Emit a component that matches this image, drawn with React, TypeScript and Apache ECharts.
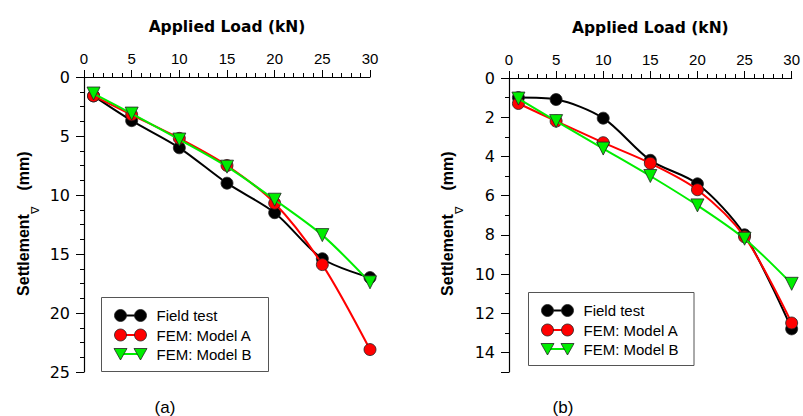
import React, { useEffect, useRef } from "react";
import * as echarts from "echarts";

// Applied load (kN)
const loads = [1, 5, 10, 15, 20, 25, 30];

// (a) settlement (mm)
const aField = [1.6, 3.7, 6.0, 9.0, 11.5, 15.4, 17.0];
const aModelA = [1.6, 3.2, 5.2, 7.5, 10.7, 15.9, 23.1];
const aModelB = [1.4, 3.1, 5.3, 7.6, 10.4, 13.4, 17.4];

// (b) settlement (mm)
const bField = [1.0, 1.1, 2.05, 4.2, 5.4, 8.0, 12.8];
const bModelA = [1.3, 2.2, 3.3, 4.35, 5.7, 8.1, 12.5];
const bModelB = [1.05, 2.2, 3.6, 5.0, 6.5, 8.2, 10.5];

const seriesNames = ["Field test", "FEM: Model A", "FEM: Model B"];
const seriesColors = ["#000000", "#ff0000", "#00ee00"];
const panelLabels = ["(a)", "(b)"];
const xTitle = "Applied Load (kN)";

const FONT = "'Liberation Sans', Arial, sans-serif";

function pairs(ys: number[]) {
  return loads.map((x, i) => [x, ys[i]]);
}

function makeSeries(ys: number[], idx: number, grid: number) {
  const isTri = idx === 2;
  return {
    type: "line",
    name: seriesNames[idx],
    xAxisIndex: grid,
    yAxisIndex: grid,
    data: pairs(ys),
    smooth: 0.3,
    symbol: isTri ? "triangle" : "circle",
    symbolRotate: isTri ? 180 : 0,
    symbolSize: isTri ? 13 : 12,
    lineStyle: { color: seriesColors[idx], width: 2 },
    itemStyle: { color: seriesColors[idx], borderColor: "#222", borderWidth: 0.8 },
    z: 2 + idx,
  };
}

function legendGraphics(bx: number, by: number, bw: number, bh: number) {
  const els: any[] = [
    {
      type: "rect",
      shape: { x: bx, y: by, width: bw, height: bh },
      style: { fill: "#fff", stroke: "#555", lineWidth: 1 },
      z: 10,
    },
  ];
  const rows = [18, 37.5, 56.5];
  rows.forEach((dy, i) => {
    const cy = by + dy;
    const x1 = bx + 19;
    const x2 = bx + 39;
    els.push({
      type: "line",
      shape: { x1, y1: cy, x2, y2: cy },
      style: { stroke: seriesColors[i], lineWidth: 2 },
      z: 11,
    });
    [x1, x2].forEach((cx) => {
      if (i === 2) {
        els.push({
          type: "polygon",
          shape: { points: [[cx - 6.5, cy - 5.5], [cx + 6.5, cy - 5.5], [cx, cy + 6]] },
          style: { fill: seriesColors[i], stroke: "#222", lineWidth: 0.8 },
          z: 12,
        });
      } else {
        els.push({
          type: "circle",
          shape: { cx, cy, r: 6 },
          style: { fill: seriesColors[i], stroke: "#222", lineWidth: 0.8 },
          z: 12,
        });
      }
    });
    els.push({
      type: "text",
      x: bx + 55,
      y: cy,
      style: {
        text: seriesNames[i],
        font: `15px ${FONT}`,
        fill: "#000",
        verticalAlign: "middle",
      },
      z: 12,
    });
  });
  return els;
}

function yTitle(cx: number, triX: number) {
  const bold = `bold 16px ${FONT}`;
  return [
    {
      type: "text",
      x: cx,
      y: 255,
      rotation: Math.PI / 2,
      style: { text: "Settlement", font: bold, fill: "#000", align: "center", verticalAlign: "middle" },
    },
    {
      type: "text",
      x: triX,
      y: 210,
      rotation: Math.PI / 2,
      style: { text: "∇", font: `11px ${FONT}`, fill: "#000", align: "center", verticalAlign: "middle" },
    },
    {
      type: "text",
      x: cx,
      y: 171,
      rotation: Math.PI / 2,
      style: { text: "(mm)", font: bold, fill: "#000", align: "center", verticalAlign: "middle" },
    },
  ];
}

function xAxisCfg(grid: number) {
  return {
    type: "value",
    gridIndex: grid,
    position: "top",
    min: 0,
    max: 30,
    interval: 5,
    name: xTitle,
    nameLocation: "middle",
    nameGap: 42,
    nameTextStyle: { fontFamily: "'DejaVu Sans', sans-serif", fontWeight: "bold", fontSize: 15.5, color: "#000" },
    axisLine: { show: true, lineStyle: { color: "#000", width: 1.2 } },
    axisTick: { show: true, length: 7, lineStyle: { color: "#000", width: 1 } },
    minorTick: { show: true, splitNumber: 5, length: 4, lineStyle: { color: "#000", width: 1 } },
    axisLabel: { color: "#000", fontFamily: FONT, fontSize: 15, margin: 11 },
    splitLine: { show: false },
  };
}

function yAxisCfg(grid: number, max: number, interval: number, minorSplit: number) {
  return {
    type: "value",
    gridIndex: grid,
    inverse: true,
    min: 0,
    max,
    interval,
    axisLine: { show: true, lineStyle: { color: "#000", width: 1.2 } },
    axisTick: { show: true, length: 8, lineStyle: { color: "#000", width: 1 } },
    minorTick: { show: true, splitNumber: minorSplit, length: 4, lineStyle: { color: "#000", width: 1 } },
    axisLabel: {
      color: "#000",
      fontFamily: "'DejaVu Sans', sans-serif",
      fontSize: 16,
      margin: 14,
      showMaxLabel: max % interval === 0,
    },
    splitLine: { show: false },
  };
}

export default function App() {
  const ref = useRef<HTMLDivElement>(null);
  useEffect(() => {
    if (!ref.current) return;
    const chart = echarts.init(ref.current, null, { renderer: "svg" });
    chart.setOption({
      animation: false,
      backgroundColor: "#fff",
      grid: [
        { left: 84, top: 77, width: 286, height: 295 },
        { left: 509, top: 78, width: 285, height: 294 },
      ],
      xAxis: [xAxisCfg(0), xAxisCfg(1)],
      yAxis: [yAxisCfg(0, 25, 5, 4), yAxisCfg(1, 15, 2, 2)],
      series: [
        makeSeries(aField, 0, 0),
        makeSeries(aModelA, 1, 0),
        makeSeries(aModelB, 2, 0),
        makeSeries(bField, 0, 1),
        makeSeries(bModelA, 1, 1),
        makeSeries(bModelB, 2, 1),
      ],
      graphic: [
        ...legendGraphics(101.5, 297.5, 167, 74),
        ...legendGraphics(528.5, 292.5, 165.5, 73),
        ...yTitle(23, 35),
        ...yTitle(447, 459),
        {
          type: "text",
          x: 165,
          y: 407,
          style: { text: panelLabels[0], font: `17px ${FONT}`, fill: "#000", align: "center", verticalAlign: "middle" },
        },
        {
          type: "text",
          x: 563,
          y: 407,
          style: { text: panelLabels[1], font: `17px ${FONT}`, fill: "#000", align: "center", verticalAlign: "middle" },
        },
      ],
    });
    return () => chart.dispose();
  }, []);
  return (
    <div
      ref={ref}
      style={{ position: "fixed", left: 0, top: 0, width: 803, height: 416 }}
    />
  );
}
